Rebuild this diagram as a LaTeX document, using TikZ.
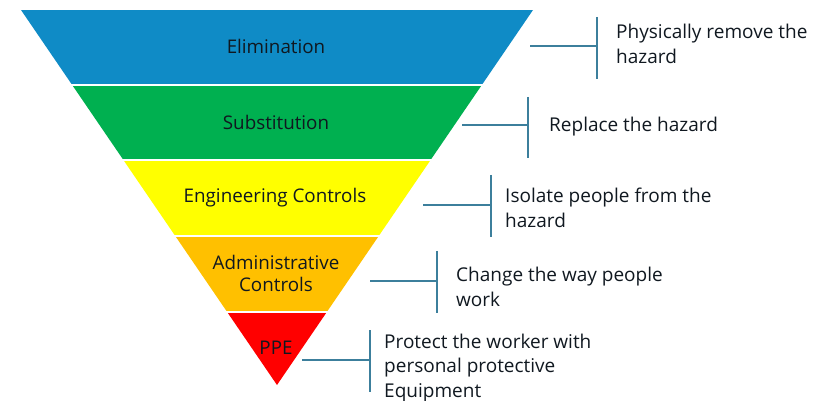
\documentclass[tikz,border=0pt]{standalone}
\usepackage{fontspec}
\setmainfont{Open Sans}
\definecolor{cblue}{HTML}{0F8BC6}
\definecolor{cgreen}{HTML}{00B050}
\definecolor{cyellow}{HTML}{FFFF00}
\definecolor{corange}{HTML}{FFC000}
\definecolor{cred}{HTML}{FF0000}
\definecolor{cline}{HTML}{3C7F9C}
\definecolor{ctext}{HTML}{101820}
\tikzset{
  band/.style={draw=none},
  lvl/.style={text=ctext, font=\fontsize{18.8}{22}\selectfont, align=center},
  desc/.style={text=ctext, font=\fontsize{19}{24.5}\selectfont, align=left, anchor=west, inner sep=0pt},
  conn/.style={draw=cline, line width=1.5pt}
}
\begin{document}
\begin{tikzpicture}[x=1pt,y=-1pt]
\useasboundingbox (0,0) rectangle (831,401);
\begin{scope}
\clip (21,10) -- (533,10) -- (277,385) -- cycle;
\fill[cblue] (0,10) rectangle (831,84);
\fill[cgreen] (0,86) rectangle (831,159);
\fill[cyellow] (0,161) rectangle (831,235);
\fill[corange] (0,237) rectangle (831,311);
\fill[cred] (0,313) rectangle (831,390);
\end{scope}
\node[lvl] (l1) at (276,46) {Elimination};
\node[lvl] (l2) at (276,122) {Substitution};
\node[lvl] (l3) at (275,198) {Engineering Controls};
\node[lvl] (l4) at (276,273) {Administrative\\Controls};
\node[lvl] (l5) at (276,348) {PPE};
% connectors
\coordinate (h1) at (530,46); \coordinate (v1t) at (597,17); \coordinate (v1b) at (597,79); \coordinate (v1m) at (597,46);
\coordinate (h2) at (462,125); \coordinate (v2t) at (528,97); \coordinate (v2b) at (528,158); \coordinate (v2m) at (528,125);
\coordinate (h3) at (423,205); \coordinate (v3t) at (491,175); \coordinate (v3b) at (491,237); \coordinate (v3m) at (491,205);
\coordinate (h4) at (370,281); \coordinate (v4t) at (437,251); \coordinate (v4b) at (437,313); \coordinate (v4m) at (437,281);
\coordinate (h5) at (302,360); \coordinate (v5t) at (370,330); \coordinate (v5b) at (370,392); \coordinate (v5m) at (370,360);
\foreach \i in {1,...,5} {
  \draw[conn] (h\i) -- (v\i m);
  \draw[conn] (v\i t) -- (v\i b);
}
\node[desc] (d1) at (616,44) {Physically remove the\\hazard};
\node[desc] (d2) at (549,127) {Replace the hazard};
\node[desc] (d3) at (505,208) {Isolate people from the\\hazard};
\node[desc] (d4) at (456,287) {Change the way people\\work};
\node[desc] (d5) at (384,368) {Protect the worker with\\personal protective\\Equipment};
\end{tikzpicture}
\end{document}
